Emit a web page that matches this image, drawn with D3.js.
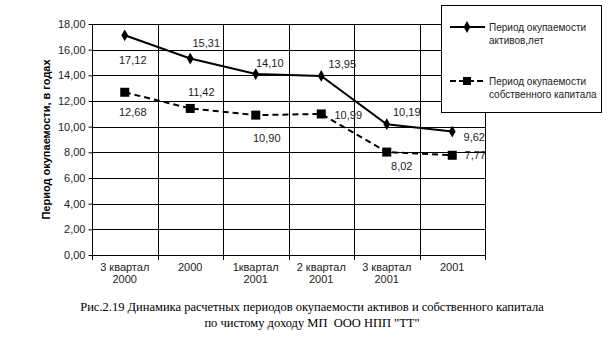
<!DOCTYPE html>
<html><head><meta charset="utf-8">
<script src="https://cdn.jsdelivr.net/npm/d3@7"></script>
<style>body{margin:0;background:#fff}svg{display:block}</style>
</head><body>
<svg id="c" width="609" height="338"></svg>
<script>
const categories = [["3 квартал","2000"],["2000"],["1квартал","2001"],["2 квартал","2001"],["3 квартал","2001"],["2001"]];
const assets = [17.12, 15.31, 14.10, 13.95, 10.19, 9.62];
const equity = [12.68, 11.42, 10.90, 10.99, 8.02, 7.77];
const yTicks = [0,2,4,6,8,10,12,14,16,18];
const seriesNames = [["Период окупаемости","активов,лет"],["Период окупаемости","собственного капитала"]];
const yTitle = "Период окупаемости, в годах";
const caption = ["Рис.2.19 Динамика расчетных периодов окупаемости активов и собственного капитала","по чистому доходу МП  ООО НПП \"ТТ\""];

// label placement offsets (dx, dy from point)
const assetsOff = [[8,25],[16,-15],[14,-11],[21,-12],[20,-12],[22,6]];
const equityOff = [[8,20],[11,-16],[11,23],[27,1],[15,14],[23,0]];

const svg = d3.select("#c");
const L=92, R=485, T=24, B=255;
const x = d3.scaleBand().domain(d3.range(categories.length)).range([L,R]);
const y = d3.scaleLinear().domain([0,18]).range([B,T]);
const font = "Arial, 'Liberation Sans', sans-serif";

// gridlines
svg.append("g").selectAll("line").data(yTicks).join("line")
  .attr("x1",L).attr("x2",R).attr("y1",d=>Math.round(y(d))+0.5).attr("y2",d=>Math.round(y(d))+0.5)
  .attr("stroke","#000").attr("stroke-width",1);
const bounds = d3.range(categories.length+1).map(i=> i<categories.length ? x(i) : R);
svg.append("g").selectAll("line").data(bounds).join("line")
  .attr("x1",d=>Math.round(d)+0.5).attr("x2",d=>Math.round(d)+0.5).attr("y1",T).attr("y2",B+5)
  .attr("stroke","#000").attr("stroke-width",1);

// y axis
const yAxis = svg.append("g").attr("transform",`translate(${L+0.5},0)`)
  .call(d3.axisLeft(y).tickValues(yTicks).tickSize(4).tickFormat(d=>d3.format(".2f")(d).replace(".",",")));
yAxis.select(".domain").remove();
yAxis.selectAll("line").attr("stroke","#000");
yAxis.selectAll("text").attr("font-family",font).attr("font-size",11).attr("fill","#222").attr("x",-7);

// x labels
const xl = svg.append("g").selectAll("text").data(categories).join("text")
  .attr("x",(d,i)=>x(i)+x.bandwidth()/2).attr("y",271)
  .attr("text-anchor","middle").attr("font-family",font).attr("font-size",11).attr("fill","#222");
xl.selectAll("tspan").data(d=>d).join("tspan")
  .attr("x",function(){return this.parentNode.getAttribute("x");}).attr("dy",(d,i)=>i?12:0).text(d=>d);

// y title
svg.append("text").attr("transform",`translate(50,${(T+B)/2}) rotate(-90)`)
  .attr("text-anchor","middle").attr("font-family",font).attr("font-size",11).attr("font-weight","bold").text(yTitle);

const cx = i=>x(i)+x.bandwidth()/2;
const line = d3.line().x((d,i)=>cx(i)).y(d=>y(d));
svg.append("path").datum(assets).attr("d",line).attr("fill","none").attr("stroke","#000").attr("stroke-width",2);
svg.append("path").datum(equity).attr("d",line).attr("fill","none").attr("stroke","#000").attr("stroke-width",2).attr("stroke-dasharray","6,4");

const diamond = d3.symbol().type(d3.symbolDiamond).size(40);
svg.append("g").selectAll("path").data(assets).join("path")
  .attr("d",diamond).attr("transform",(d,i)=>`translate(${cx(i)},${y(d)})`).attr("fill","#000");
svg.append("g").selectAll("rect").data(equity).join("rect")
  .attr("x",(d,i)=>cx(i)-4.5).attr("y",d=>y(d)-4.5).attr("width",9).attr("height",9).attr("fill","#000");

const fmt = d=>d3.format(".2f")(d).replace(".",",");
function labels(data,off){
  svg.append("g").selectAll("text").data(data).join("text")
    .attr("x",(d,i)=>cx(i)+off[i][0]).attr("y",(d,i)=>y(d)+off[i][1]).attr("dy","0.35em")
    .attr("text-anchor","middle").attr("font-family",font).attr("font-size",11).attr("fill","#222").text(fmt);
}
labels(assets,assetsOff);
labels(equity,equityOff);

// legend
const lg = svg.append("g");
lg.append("rect").attr("x",441.5).attr("y",5.5).attr("width",160).attr("height",107).attr("fill","#fff").attr("stroke","#000");
const ly = [27,81];
lg.append("line").attr("x1",450).attr("x2",485).attr("y1",ly[0]).attr("y2",ly[0]).attr("stroke","#000").attr("stroke-width",2);
lg.append("path").attr("d",diamond).attr("transform",`translate(467,${ly[0]})`);
lg.append("line").attr("x1",450).attr("x2",485).attr("y1",ly[1]).attr("y2",ly[1]).attr("stroke","#000").attr("stroke-width",2).attr("stroke-dasharray","6,3");
lg.append("rect").attr("x",463).attr("y",ly[1]-4).attr("width",8).attr("height",8);
seriesNames.forEach((n,k)=>{
  const t = lg.append("text").attr("font-family",font).attr("font-size",10).attr("fill","#222");
  n.forEach((s,j)=>t.append("tspan").attr("x",489).attr("y",ly[k]+3.5+j*13).text(s));
});

// caption
const cap = svg.append("text").attr("text-anchor","middle").attr("font-family","'Liberation Serif','Times New Roman',serif").attr("font-size",12.5).attr("fill","#000").style("white-space","pre");
caption.forEach((s,j)=>cap.append("tspan").attr("x",312).attr("y",311+j*16).text(s));
</script>
</body></html>
